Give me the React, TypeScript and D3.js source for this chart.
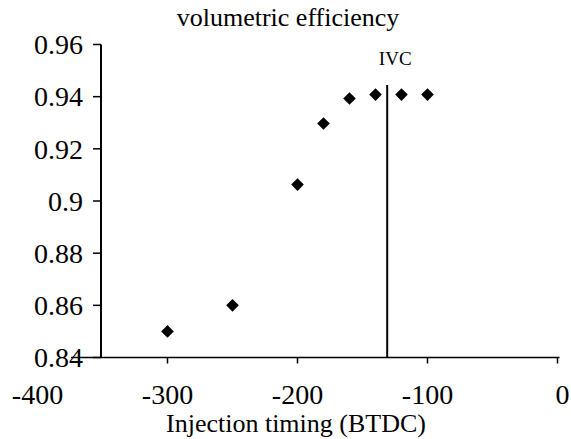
import React from "react";
import * as d3 from "d3";

const timings = [-300, -250, -200, -180, -160, -140, -120, -100];
const efficiency = [0.85, 0.86, 0.9063, 0.9297, 0.9393, 0.9408, 0.9408, 0.9408];
const xTicks = [-400, -300, -200, -100, 0];
const yTicks = [0.84, 0.86, 0.88, 0.9, 0.92, 0.94, 0.96];
const ivc = -131;
const ivcTop = 0.9445;
const title = "volumetric efficiency";
const xTitle = "Injection timing (BTDC)";

const W = 571;
const H = 439;
const FONT = "Liberation Serif, Times New Roman, DejaVu Serif, serif";

export default function App() {
  const x = d3.scaleLinear().domain([-400, 0]).range([37.5, 557.5]);
  const y = d3.scaleLinear().domain([0.84, 0.96]).range([357.5, 44.5]);
  const axisX0 = 101;
  const xAxisEnd = x(0) + 2;
  const diamond = d3.symbol().type(d3.symbolSquare).size(80)();

  return (
    <svg
      width={W}
      height={H}
      style={{ position: "absolute", left: 0, top: 0, background: "#fff", fontFamily: FONT }}
    >
      <rect width={W} height={H} fill="#fff" />
      <text x={288} y={26} textAnchor="middle" fontSize={26} fill="#000" style={{ fontFamily: FONT }}>
        {title}
      </text>
      {/* y axis */}
      <line x1={axisX0} x2={axisX0} y1={y(0.96)} y2={y(0.84)} stroke="#000" strokeWidth={2} />
      {yTicks.map((t) => (
        <g key={t}>
          <line x1={axisX0 - 8} x2={axisX0} y1={y(t)} y2={y(t)} stroke="#000" strokeWidth={1.5} />
          <text x={83} y={y(t)} dy="0.35em" textAnchor="end" fontSize={28} fill="#000" style={{ fontFamily: FONT }}>
            {d3.format("")(t)}
          </text>
        </g>
      ))}
      {/* x axis */}
      <line x1={axisX0 - 30} x2={xAxisEnd} y1={y(0.84)} y2={y(0.84)} stroke="#000" strokeWidth={1.5} />
      {xTicks.map((t) => (
        <g key={t}>
          {t > -350 && (
            <line x1={x(t)} x2={x(t)} y1={y(0.84)} y2={y(0.84) + 6} stroke="#000" strokeWidth={1.5} />
          )}
          <text x={x(t) + (t === 0 ? 5 : 0)} y={404} textAnchor="middle" fontSize={28} fill="#000" style={{ fontFamily: FONT }}>
            {t}
          </text>
        </g>
      ))}
      <text x={296} y={432} textAnchor="middle" fontSize={26} fill="#000" style={{ fontFamily: FONT }}>
        {xTitle}
      </text>
      {/* IVC line */}
      <line x1={x(ivc)} x2={x(ivc)} y1={y(ivcTop)} y2={y(0.84)} stroke="#000" strokeWidth={2} />
      <text x={x(ivc) + 8} y={65} textAnchor="middle" fontSize={19} fill="#000" style={{ fontFamily: FONT }}>
        IVC
      </text>
      {timings.map((t, i) => (
        <path
          key={t}
          d={diamond}
          transform={`translate(${x(t)},${y(efficiency[i])}) rotate(45)`}
          fill="#000"
        />
      ))}
    </svg>
  );
}
